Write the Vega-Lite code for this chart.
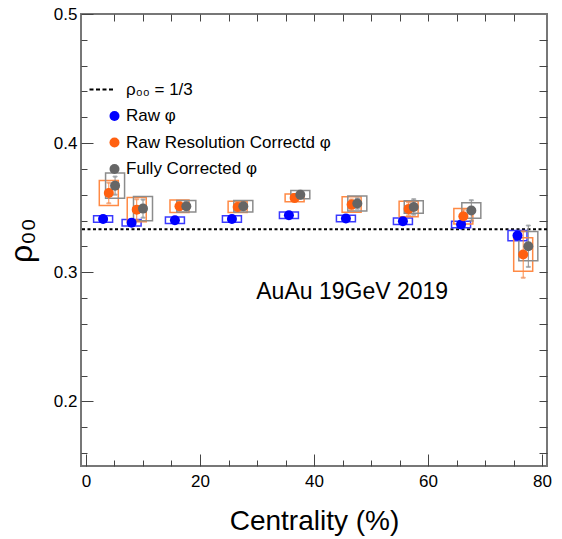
{
  "$schema": "https://vega.github.io/schema/vega-lite/v6.json",
  "width": 466,
  "height": 452,
  "autosize": {"type": "none"},
  "padding": {"left": 81, "top": 14, "right": 15, "bottom": 73},
  "background": "white",
  "config": {
    "view": {"stroke": "#777777", "strokeWidth": 2},
    "font": "Liberation Sans",
    "axis": {
      "domain": false,
      "grid": false,
      "tickColor": "#444444",
      "tickWidth": 1,
      "labelFont": "Liberation Sans",
      "labelColor": "black",
      "titleFont": "Liberation Sans",
      "titleColor": "black",
      "titleFontWeight": "normal"
    }
  },
  "datasets": {
    "pts": [
      {"series": "Raw φ", "x": 3.0, "y": 0.3413, "err": 0.001, "slo": 0.3388, "shi": 0.3438},
      {"series": "Raw φ", "x": 8.0, "y": 0.3383, "err": 0.001, "slo": 0.3358, "shi": 0.3408},
      {"series": "Raw φ", "x": 15.6, "y": 0.3403, "err": 0.001, "slo": 0.3378, "shi": 0.3428},
      {"series": "Raw φ", "x": 25.6, "y": 0.3413, "err": 0.001, "slo": 0.3388, "shi": 0.3438},
      {"series": "Raw φ", "x": 35.6, "y": 0.3441, "err": 0.001, "slo": 0.3416, "shi": 0.3466},
      {"series": "Raw φ", "x": 45.6, "y": 0.3416, "err": 0.001, "slo": 0.3391, "shi": 0.3441},
      {"series": "Raw φ", "x": 55.6, "y": 0.3395, "err": 0.001, "slo": 0.337, "shi": 0.342},
      {"series": "Raw φ", "x": 65.8, "y": 0.337, "err": 0.0015, "slo": 0.3345, "shi": 0.3395},
      {"series": "Raw φ", "x": 75.7, "y": 0.3284, "err": 0.003, "slo": 0.3244, "shi": 0.3324},
      {"series": "Raw Resolution Correctd φ", "x": 4.0, "y": 0.3614, "err": 0.008, "slo": 0.3517, "shi": 0.3711},
      {"series": "Raw Resolution Correctd φ", "x": 8.9, "y": 0.3485, "err": 0.008, "slo": 0.3391, "shi": 0.3579},
      {"series": "Raw Resolution Correctd φ", "x": 16.4, "y": 0.3511, "err": 0.003, "slo": 0.3463, "shi": 0.3559},
      {"series": "Raw Resolution Correctd φ", "x": 26.6, "y": 0.3506, "err": 0.003, "slo": 0.3462, "shi": 0.355},
      {"series": "Raw Resolution Correctd φ", "x": 36.6, "y": 0.3576, "err": 0.003, "slo": 0.3546, "shi": 0.3606},
      {"series": "Raw Resolution Correctd φ", "x": 46.6, "y": 0.3524, "err": 0.004, "slo": 0.3464, "shi": 0.3584},
      {"series": "Raw Resolution Correctd φ", "x": 56.6, "y": 0.3491, "err": 0.005, "slo": 0.3431, "shi": 0.3551},
      {"series": "Raw Resolution Correctd φ", "x": 66.2, "y": 0.3434, "err": 0.005, "slo": 0.3374, "shi": 0.3494},
      {"series": "Raw Resolution Correctd φ", "x": 76.7, "y": 0.3138, "err": 0.018, "slo": 0.3008, "shi": 0.3268},
      {"series": "Fully Corrected φ", "x": 5.1, "y": 0.3671, "err": 0.007, "slo": 0.3573, "shi": 0.3769},
      {"series": "Fully Corrected φ", "x": 10.0, "y": 0.3493, "err": 0.007, "slo": 0.3399, "shi": 0.3587},
      {"series": "Fully Corrected φ", "x": 17.6, "y": 0.3511, "err": 0.003, "slo": 0.3466, "shi": 0.3556},
      {"series": "Fully Corrected φ", "x": 27.6, "y": 0.3511, "err": 0.003, "slo": 0.3467, "shi": 0.3555},
      {"series": "Fully Corrected φ", "x": 37.6, "y": 0.3601, "err": 0.003, "slo": 0.3569, "shi": 0.3633},
      {"series": "Fully Corrected φ", "x": 47.6, "y": 0.3532, "err": 0.004, "slo": 0.3474, "shi": 0.359},
      {"series": "Fully Corrected φ", "x": 57.5, "y": 0.3506, "err": 0.006, "slo": 0.3458, "shi": 0.3554},
      {"series": "Fully Corrected φ", "x": 67.6, "y": 0.3478, "err": 0.008, "slo": 0.3418, "shi": 0.3538},
      {"series": "Fully Corrected φ", "x": 77.6, "y": 0.3202, "err": 0.016, "slo": 0.3089, "shi": 0.3315}
    ]
  },
  "layer": [
    {
      "data": {"values": [{"ref": 0.33333}]},
      "mark": {"type": "rule", "strokeDash": [3, 2.5], "strokeWidth": 2, "color": "black"},
      "encoding": {
        "y": {
          "field": "ref",
          "type": "quantitative",
          "scale": {"domain": [0.15, 0.5], "nice": false, "zero": false},
          "axis": {
            "orient": "right",
            "values": [0.16, 0.18, 0.2, 0.22, 0.24, 0.26, 0.28, 0.3, 0.32, 0.34, 0.36, 0.38, 0.4, 0.42, 0.44, 0.46, 0.48],
            "tickSize": -8,
            "labels": false,
            "title": null
          }
        }
      }
    },
    {
      "data": {"name": "pts"},
      "mark": {"type": "bar", "filled": false, "width": 19, "strokeWidth": 1.5},
      "encoding": {
        "x": {
          "field": "x",
          "type": "quantitative",
          "scale": {"domain": [0, 80], "nice": false, "zero": false},
          "axis": {
            "orient": "bottom",
            "values": [0, 20, 40, 60, 80],
            "tickSize": -12,
            "labelFontSize": 17,
            "labelPadding": 19,
            "title": "Centrality (%)",
            "titleFontSize": 28,
            "titlePadding": 18
          }
        },
        "y": {
          "field": "slo",
          "type": "quantitative",
          "scale": {"domain": [0.15, 0.5], "nice": false, "zero": false},
          "axis": {
            "orient": "left",
            "values": [0.2, 0.3, 0.4, 0.5],
            "format": ".1f",
            "tickSize": -12,
            "labelFontSize": 17,
            "labelPadding": 16,
            "title": "ρ₀₀",
            "titleFontSize": 32,
            "titlePadding": 15
          }
        },
        "y2": {"field": "shi"},
        "stroke": {
          "field": "series",
          "type": "nominal",
          "scale": {
            "domain": ["Raw φ", "Raw Resolution Correctd φ", "Fully Corrected φ"],
            "range": ["#3a3aff", "#ff8a45", "#8c8c8c"]
          },
          "legend": null
        }
      }
    },
    {
      "data": {"name": "pts"},
      "mark": {"type": "errorbar", "ticks": {"size": 4}, "thickness": 1},
      "encoding": {
        "x": {"field": "x", "type": "quantitative", "scale": {"domain": [0, 80], "nice": false, "zero": false}, "axis": null},
        "y": {"field": "y", "type": "quantitative", "scale": {"domain": [0.15, 0.5], "nice": false, "zero": false}, "axis": null},
        "yError": {"field": "err"},
        "stroke": {"field": "series", "type": "nominal", "legend": null}
      }
    },
    {
      "data": {"name": "pts"},
      "mark": {"type": "point", "filled": true, "size": 100, "opacity": 1},
      "encoding": {
        "x": {
          "field": "x",
          "type": "quantitative",
          "scale": {"domain": [0, 80], "nice": false, "zero": false},
          "axis": {
            "orient": "bottom",
            "values": [5, 10, 15, 25, 30, 35, 45, 50, 55, 65, 70, 75],
            "tickSize": -6,
            "labels": false,
            "title": null
          }
        },
        "y": {
          "field": "y",
          "type": "quantitative",
          "scale": {"domain": [0.15, 0.5], "nice": false, "zero": false},
          "axis": {
            "orient": "left",
            "values": [0.16, 0.18, 0.22, 0.24, 0.26, 0.28, 0.32, 0.34, 0.36, 0.38, 0.42, 0.44, 0.46, 0.48],
            "tickSize": -6,
            "labels": false,
            "title": null
          }
        },
        "color": {
          "field": "series",
          "type": "nominal",
          "scale": {
            "domain": ["ρ₀₀ = 1/3", "Raw φ", "Raw Resolution Correctd φ", "Fully Corrected φ"],
            "range": ["#000000", "#0000ff", "#ff6010", "#666666"]
          },
          "legend": {
            "orient": "none",
            "legendX": 25,
            "legendY": 67,
            "title": null,
            "labelFont": "Liberation Sans",
            "labelFontSize": 17,
            "labelColor": "black",
            "labelLimit": 400,
            "symbolSize": 100,
            "rowPadding": 8.5,
            "labelOffset": 3,
            "padding": 0,
            "symbolOffset": 0
          }
        },
        "shape": {
          "field": "series",
          "type": "nominal",
          "scale": {
            "domain": ["ρ₀₀ = 1/3", "Raw φ", "Raw Resolution Correctd φ", "Fully Corrected φ"],
            "range": ["M-5,-0.2H-4.2V0.2H-5Z M-3.7,-0.2H-2.9V0.2H-3.7Z M-2.4,-0.2H-1.6V0.2H-2.4Z M-1.1,-0.2H-0.3V0.2H-1.1Z", "circle", "circle", "circle"]
          },
          "legend": {
            "orient": "none",
            "legendX": 25,
            "legendY": 67,
            "title": null,
            "labelFont": "Liberation Sans",
            "labelFontSize": 17,
            "labelColor": "black",
            "labelLimit": 400,
            "symbolSize": 100,
            "rowPadding": 8.5,
            "labelOffset": 3,
            "padding": 0,
            "symbolOffset": 0
          }
        }
      }
    },
    {
      "data": {"values": [{"cx": 46.7, "cy": 0.2844, "label": "AuAu 19GeV 2019"}]},
      "mark": {"type": "text", "fontSize": 23, "font": "Liberation Sans", "align": "center", "baseline": "middle", "color": "black"},
      "encoding": {
        "x": {
          "field": "cx",
          "type": "quantitative",
          "scale": {"domain": [0, 80], "nice": false, "zero": false},
          "axis": {
            "orient": "top",
            "values": [5, 10, 15, 20, 25, 30, 35, 40, 45, 50, 55, 60, 65, 70, 75],
            "tickSize": -7,
            "labels": false,
            "title": null
          }
        },
        "y": {"field": "cy", "type": "quantitative", "scale": {"domain": [0.15, 0.5], "nice": false, "zero": false}, "axis": null},
        "text": {"field": "label"}
      }
    }
  ],
  "resolve": {"axis": {"x": "independent", "y": "independent"}}
}
